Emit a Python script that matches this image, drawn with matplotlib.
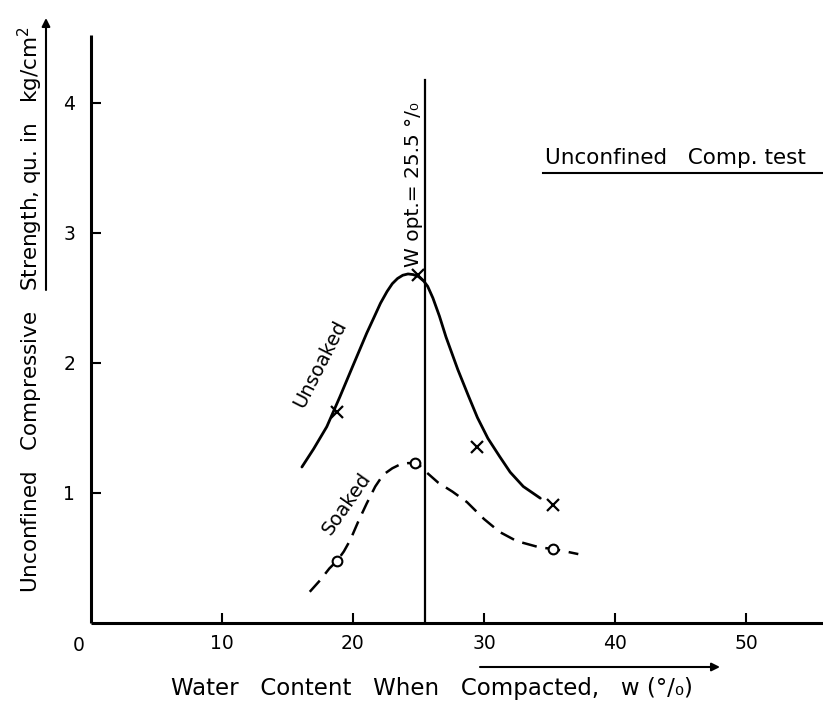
import matplotlib
matplotlib.use("Agg")
import matplotlib.pyplot as plt
from matplotlib.lines import Line2D

plt.rcParams['font.family'] = ['DejaVu Sans']

# ---- data ----
x_ticks = [10, 20, 30, 40, 50]
x_tick_labels = ["10", "20", "30", "40", "50"]
y_ticks = [1, 2, 3, 4]
y_tick_labels = ["1", "2", "3", "4"]

# measured points
unsoaked_w = [18.8, 25.0, 29.5, 35.3]
unsoaked_qu = [1.62, 2.68, 1.35, 0.91]
soaked_w = [18.8, 24.7, 35.3]
soaked_qu = [0.48, 1.23, 0.57]

# hand-drawn curves
unsoaked_curve_w = [16.1, 17.0, 18.0, 19.0, 20.0, 21.05, 21.6, 22.1, 22.6, 23.0,
                    23.4, 23.8, 24.2, 24.6, 25.0, 25.4, 25.7, 26.1, 26.6, 27.1,
                    28.0, 28.8, 29.5, 30.3, 31.2, 32.0, 33.0, 34.3]
unsoaked_curve_qu = [1.20, 1.34, 1.51, 1.74, 1.98, 2.23, 2.35, 2.46, 2.55, 2.61,
                     2.65, 2.675, 2.685, 2.68, 2.665, 2.63, 2.59, 2.50, 2.36, 2.20,
                     1.95, 1.75, 1.58, 1.42, 1.28, 1.16, 1.05, 0.96]
soaked_curve_w = [16.7, 17.5, 18.2, 18.8, 19.3, 19.8, 20.4, 21.05, 21.7, 22.3,
                  23.0, 23.6, 24.2, 24.7, 25.1, 25.6, 26.5, 27.6, 28.7, 30.0,
                  31.2, 32.5, 34.3, 35.3, 37.2]
soaked_curve_qu = [0.24, 0.33, 0.42, 0.48, 0.55, 0.64, 0.78, 0.92, 1.05, 1.14,
                   1.19, 1.22, 1.23, 1.23, 1.21, 1.16, 1.08, 1.01, 0.93, 0.80,
                   0.70, 0.63, 0.58, 0.57, 0.53]

w_opt = 25.5
opt_line_top = 4.18

# ---- figure ----
fig = plt.figure(figsize=(8.23, 7.11), dpi=100)
ax = fig.add_axes([91 / 823, 88 / 711, 732 / 823, 588 / 711])
ax.set_xlim(0, 55.88)
ax.set_ylim(0, 4.523)
for s in ['top', 'right']:
    ax.spines[s].set_visible(False)
for s in ['left', 'bottom']:
    ax.spines[s].set_linewidth(2.2)
    ax.spines[s].set_capstyle('butt')

ax.set_xticks(x_ticks)
ax.set_xticklabels(x_tick_labels)
ax.set_yticks(y_ticks)
ax.set_yticklabels(y_tick_labels)
ax.tick_params(direction='in', length=7, width=1.5, labelsize=13.5)
ax.tick_params(axis='y', pad=11.5)
ax.tick_params(axis='x', pad=8)
ax.annotate("0", xy=(0, 0), xytext=(-12, -13), textcoords='offset pixels',
            ha='center', va='top', fontsize=13.5, annotation_clip=False)

# optimum water content line
ax.plot([w_opt, w_opt], [0, opt_line_top], color='black', lw=1.6, zorder=2)
ax.text(w_opt - 0.9, 2.74, "W opt.= 25.5 °/₀", rotation=90, ha='center',
        va='bottom', fontsize=14.5)

# curves
ax.plot(unsoaked_curve_w, unsoaked_curve_qu, color='black', lw=2.0,
        solid_capstyle='round', solid_joinstyle='round', zorder=3)
ax.plot(soaked_curve_w, soaked_curve_qu, color='black', lw=1.8,
        dashes=(6, 3.5), zorder=3)

# points
ax.plot(unsoaked_w, unsoaked_qu, linestyle='none', marker='x', ms=9, mew=1.6,
        color='black', zorder=4)
ax.plot(soaked_w, soaked_qu, linestyle='none', marker='o', ms=7, mew=1.5,
        mfc='white', mec='black', zorder=4)

# curve labels
ax.text(17.5, 1.99, "Unsoaked", rotation=63, ha='center', va='center',
        fontsize=14, rotation_mode='anchor')
ax.text(19.5, 0.92, "Soaked", rotation=55, ha='center', va='center',
        fontsize=14, rotation_mode='anchor')

# title-like note
fig.text(545 / 823, 1 - 158 / 711, "Unconfined   Comp. test", ha='left',
         va='center', fontsize=15.5)
fig.add_artist(Line2D([543 / 823, 1.0], [1 - 173 / 711, 1 - 173 / 711],
                      transform=fig.transFigure, lw=1.5, color='black'))

# axis labels
fig.text(30 / 823, 1 - 310 / 711,
         "Unconfined   Compressive   Strength, qu. in   kg/cm$^2$",
         rotation=90, ha='center', va='center', fontsize=15.5)
ax.annotate('', xy=(46, 711 - 18), xytext=(46, 711 - 290),
            xycoords='figure pixels', textcoords='figure pixels',
            arrowprops=dict(arrowstyle='-|>', lw=1.5, color='black',
                            mutation_scale=12, shrinkA=0, shrinkB=0),
            annotation_clip=False)

fig.text(432 / 823, 1 - 688 / 711,
         "Water   Content   When   Compacted,   w (°/₀)",
         ha='center', va='center', fontsize=16.5)
ax.annotate('', xy=(720, 711 - 667), xytext=(480, 711 - 667),
            xycoords='figure pixels', textcoords='figure pixels',
            arrowprops=dict(arrowstyle='-|>', lw=1.5, color='black',
                            mutation_scale=12, shrinkA=0, shrinkB=0),
            annotation_clip=False)

fig.savefig("out.png", dpi=100)
